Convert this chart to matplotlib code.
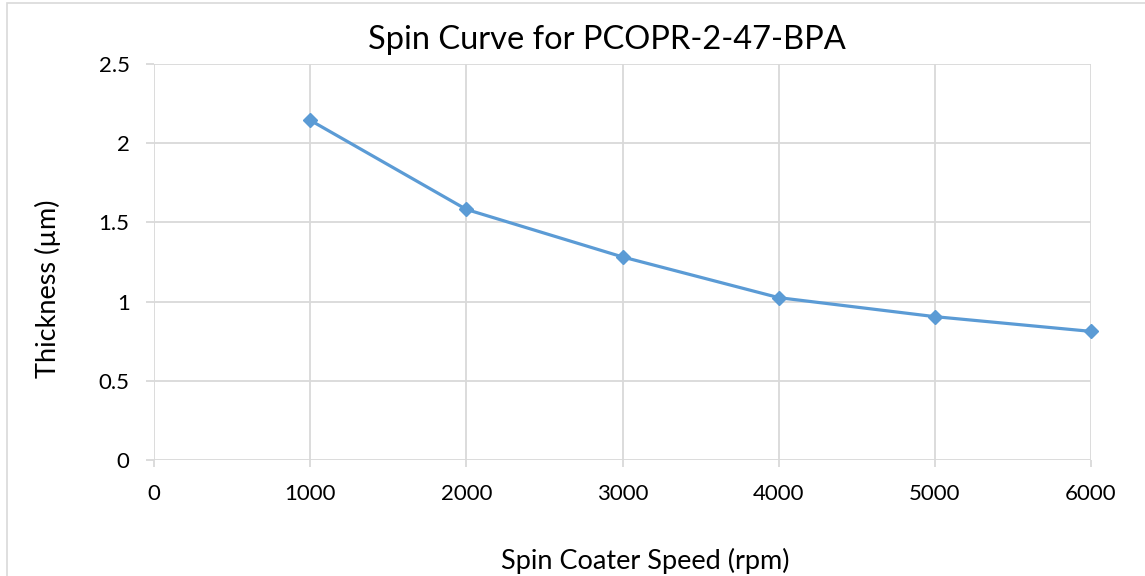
import matplotlib
matplotlib.use("Agg")
import matplotlib.pyplot as plt
from matplotlib.patches import Rectangle

speed_rpm = [1000, 2000, 3000, 4000, 5000, 6000]
thickness_um = [2.145, 1.582, 1.282, 1.025, 0.905, 0.812]
x_ticks = [0, 1000, 2000, 3000, 4000, 5000, 6000]
y_ticks = [0, 0.5, 1, 1.5, 2, 2.5]
y_tick_labels = ["0", "0.5", "1", "1.5", "2", "2.5"]
title = "Spin Curve for PCOPR-2-47-BPA"
x_label = "Spin Coater Speed (rpm)"
y_label = "Thickness (µm)"

plt.rcParams['font.family'] = ['Lato', 'DejaVu Sans']
W, H = 1145, 576
fig = plt.figure(figsize=(W / 100, H / 100), dpi=100)
fig.patches.append(Rectangle((7 / W, -0.1), 1.2, 1 - 3 / H + 0.1, transform=fig.transFigure,
                             fill=False, edgecolor="#D9D9D9", linewidth=1.2))
ax = fig.add_axes([154 / W, 1 - 460 / H, (1091 - 154) / W, (460 - 64) / H])

grid_c = "#D9D9D9"
ax.plot(speed_rpm, thickness_um, color="#5B9BD5", linewidth=2.3, marker="D",
        markersize=7, zorder=3, clip_on=False)
ax.set_xlim(0, 6000)
ax.set_ylim(0, 2.5)
ax.set_xticks(x_ticks)
ax.set_xticklabels([str(v) for v in x_ticks])
ax.set_yticks(y_ticks)
ax.set_yticklabels(y_tick_labels)
ax.grid(True, color=grid_c, linewidth=1.3)
for s in ax.spines.values():
    s.set_visible(False)
ax.tick_params(axis="x", length=5, width=1.3, color=grid_c, labelsize=16, pad=12)
ax.tick_params(axis="y", length=6, width=1.3, color=grid_c, labelsize=16, pad=11.5)
ax.set_title(title, fontsize=23.5, pad=11, x=0.4835)
ax.set_xlabel(x_label, fontsize=19.5)
ax.xaxis.set_label_coords(0.524, -0.222)
ax.set_ylabel(y_label, fontsize=19.5, labelpad=27)
ax.yaxis.label.set_y(0.432)

fig.savefig("out.png", dpi=100)
